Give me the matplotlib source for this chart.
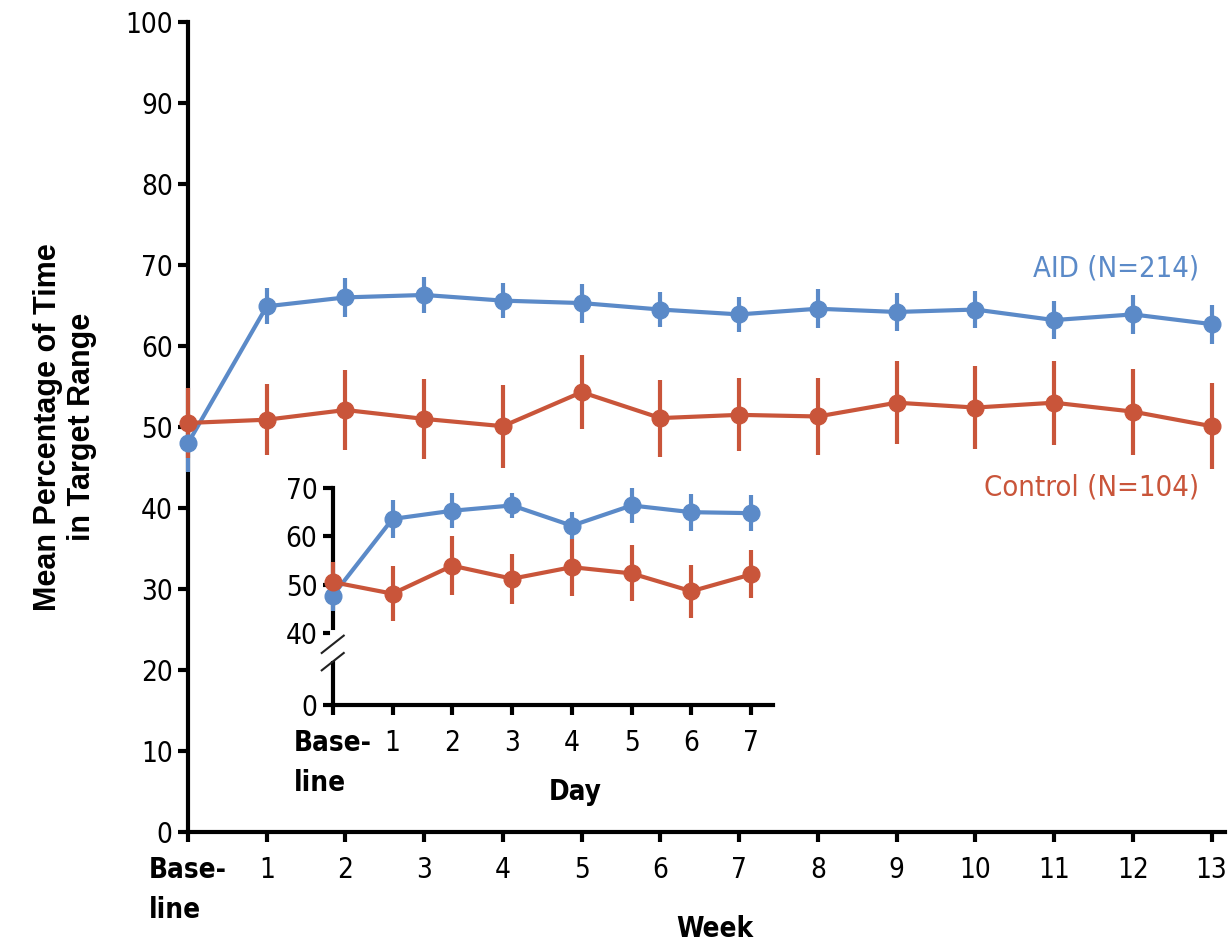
import matplotlib.pyplot as plt

plt.rcParams['font.family'] = ['DejaVu Sans']
plt.rcParams['font.stretch'] = 'condensed'

# Основной график: недели
weeks = list(range(0, 14))
week_labels = ['Base-\nline'] + [str(w) for w in range(1, 14)]
aid_week = [48.0, 64.9, 66.0, 66.3, 65.6, 65.3, 64.5, 63.9, 64.6, 64.2, 64.5, 63.2, 63.9, 62.7]
aid_week_err = [3.5, 2.2, 2.4, 2.2, 2.2, 2.4, 2.2, 2.2, 2.4, 2.3, 2.3, 2.3, 2.4, 2.4]
ctrl_week = [50.5, 50.9, 52.1, 51.0, 50.1, 54.3, 51.1, 51.5, 51.3, 53.0, 52.4, 53.0, 51.9, 50.1]
ctrl_week_err = [4.3, 4.4, 4.9, 4.9, 5.1, 4.6, 4.75, 4.5, 4.75, 5.1, 5.1, 5.2, 5.3, 5.3]

# Врезка: дни
days = list(range(0, 8))
day_labels = ['Base-\nline'] + [str(d) for d in range(1, 8)]
aid_day = [47.7, 63.6, 65.3, 66.4, 62.2, 66.4, 65.0, 64.8]
aid_day_err = [3.1, 3.9, 3.6, 2.6, 2.8, 3.7, 3.8, 3.8]
ctrl_day = [50.5, 48.1, 53.9, 51.2, 53.6, 52.3, 48.6, 52.1]
ctrl_day_err = [4.1, 5.7, 6.1, 5.2, 5.9, 5.8, 5.5, 5.0]

blue = '#5b8ac8'
red = '#c9553a'

fig = plt.figure(figsize=(12.31, 9.47), dpi=100)
ax = fig.add_axes([0.1527, 0.1214, 0.8424, 0.8554])


def style_axes(a, fs):
    for s in ['top', 'right']:
        a.spines[s].set_visible(False)
    for s in ['left', 'bottom']:
        a.spines[s].set_linewidth(3)
    a.tick_params(width=3, length=7, labelsize=fs, pad=4)
    a.tick_params(axis='x', pad=10)
    lab = a.get_xticklabels()[0]
    lab.set_fontweight('bold')
    lab.set_multialignment('left')
    lab.set_linespacing(1.55)


def draw_series(a, x, y, err, color):
    a.errorbar(x, y, yerr=err, color=color, lw=3, elinewidth=3, capsize=0,
               marker='o', markersize=12, clip_on=False, zorder=3)


draw_series(ax, weeks, aid_week, aid_week_err, blue)
draw_series(ax, weeks, ctrl_week, ctrl_week_err, red)
ax.set_xlim(0, 13.17)
ax.set_ylim(0, 100)
ax.set_yticks(range(0, 101, 10))
ax.set_xticks(weeks)
ax.set_xticklabels(week_labels)
style_axes(ax, 20)
ax.set_xlabel('Week', fontsize=20, fontweight='bold')
ax.xaxis.set_label_coords(0.508, -0.102)
ax.set_ylabel('Mean Percentage of Time\nin Target Range', fontsize=22,
              fontweight='bold', family=['Liberation Sans', 'DejaVu Sans'],
              fontstretch='normal', labelpad=20)

ax.text(12.84, 69.6, 'AID (N=214)', color=blue, fontsize=21, ha='right', va='center')
ax.text(12.84, 42.5, 'Control (N=104)', color=red, fontsize=21, ha='right', va='center')

# Врезка
ins = fig.add_axes([0.2703, 0.2555, 0.3574, 0.2291])
draw_series(ins, days, aid_day, aid_day_err, blue)
draw_series(ins, days, ctrl_day, ctrl_day_err, red)
ins.set_xlim(0, 7.36)
ins.set_ylim(25, 70)
ins.set_yticks([25, 40, 50, 60, 70])
ins.set_yticklabels(['0', '40', '50', '60', '70'])
ins.set_xticks(days)
ins.set_xticklabels(day_labels)
style_axes(ins, 20)
ins.set_xlabel('Day', fontsize=20, fontweight='bold')
ins.xaxis.set_label_coords(0.55, -0.336)
ins.patch.set_alpha(0)

# Разрыв оси на врезке
ins.plot([0, 0], [0.22, 0.33], transform=ins.transAxes, color='white', lw=5, clip_on=False, zorder=5)
for dy in [0.2, 0.28]:
    ins.plot([-0.025, 0.025], [dy - 0.04, dy + 0.04], transform=ins.transAxes,
             color='#222222', lw=1.5, clip_on=False, zorder=6)

fig.savefig('out.png', dpi=100)
